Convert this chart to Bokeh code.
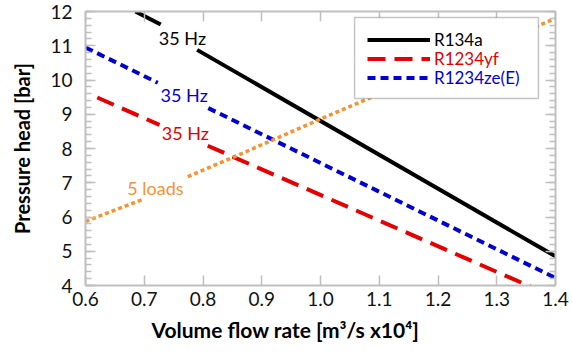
from bokeh.plotting import figure
from bokeh.models import (Range1d, LinearAxis, FixedTicker, NumeralTickFormatter, Label,
                          Legend, LegendItem, BoxAnnotation, Title)
from bokeh.embed import file_html
from bokeh.resources import INLINE

nan = float("nan")

# ---- data (NaN = gap where a data label sits) ----
r134a_x = [0.685, 0.728, nan, 0.790, 1.40]
r134a_y = [12.0, 11.62, nan, 10.88, 4.85]

r1234yf_x = [0.620, 0.726, nan, 0.808, 1.40]
r1234yf_y = [9.49, 8.69, nan, 8.08, 3.65]

r1234ze_x = [0.600, 0.723, nan, 0.809, 1.40]
r1234ze_y = [10.95, 9.92, nan, 9.18, 4.22]

loads_x = [0.600, 0.697, nan, 0.774, 0.847, 1.000, 1.40]
loads_y = [5.87, 6.51, nan, 7.18, 7.71, 8.86, 11.80]

x_ticks = [0.6, 0.7, 0.8, 0.9, 1.0, 1.1, 1.2, 1.3, 1.4]
y_ticks = [4, 5, 6, 7, 8, 9, 10, 11, 12]
y_minor = [round(4 + 0.2 * i, 1) for i in range(41)]

series_names = ["R134a", "R1234yf", "R1234ze(E)"]
annot_texts = ["35 Hz", "35 Hz", "35 Hz", "5 loads"]

BLACK = "#000000"
RED = "#e60000"
BLUE = "#0000d0"
ORANGE = "#f7922f"
AXIS_GRAY = "#bfbfbf"
FONT = "Lato"

p = figure(width=572, height=356, output_backend="svg", toolbar_location=None,
           x_range=Range1d(0.6, 1.4), y_range=Range1d(4, 12),
           min_border_left=85, min_border_right=17, min_border_top=11, min_border_bottom=71)
p.outline_line_color = None
p.xgrid.grid_line_color = None
p.ygrid.grid_line_color = None
p.background_fill_color = "white"
p.border_fill_color = "white"

def style_axis(ax, ticker, labels=True):
    ax.ticker = ticker
    ax.axis_line_color = AXIS_GRAY
    ax.axis_line_width = 2
    ax.major_tick_line_color = AXIS_GRAY
    ax.minor_tick_line_color = AXIS_GRAY
    ax.major_tick_line_width = 1.5
    ax.minor_tick_line_width = 1.5
    ax.major_tick_in = 10
    ax.major_tick_out = 0
    ax.minor_tick_in = 6
    ax.minor_tick_out = 0
    if labels:
        ax.major_label_text_font = FONT
        ax.major_label_text_font_size = "19px"
        ax.major_label_text_color = "#111111"
    else:
        ax.major_label_text_font_size = "0px"
        ax.major_label_text_color = None
        ax.major_label_standoff = 0

xt = FixedTicker(ticks=x_ticks, minor_ticks=[])
yt = FixedTicker(ticks=y_ticks, minor_ticks=y_minor)

xa = p.xaxis[0]
style_axis(xa, xt)
xa.formatter = NumeralTickFormatter(format="0.0")
xa.major_label_standoff = 6

ya = p.yaxis[0]
style_axis(ya, yt)
ya.major_label_standoff = 13
ya.axis_label = "Pressure head [bar]"
ya.axis_label_text_font = FONT
ya.axis_label_text_font_size = "20px"
ya.axis_label_text_font_style = "bold"
ya.axis_label_text_color = "#000000"
ya.axis_label_standoff = 13

top_ax = LinearAxis()
style_axis(top_ax, FixedTicker(ticks=x_ticks, minor_ticks=[]), labels=False)
p.add_layout(top_ax, "above")
right_ax = LinearAxis()
style_axis(right_ax, FixedTicker(ticks=y_ticks, minor_ticks=y_minor), labels=False)
p.add_layout(right_ax, "right")

p.add_layout(Title(text="Volume flow rate [m³/s x10⁴]", align="left", offset=66,
                   text_font=FONT, text_font_size="21px", text_font_style="bold",
                   text_color="#000000", standoff=12), "below")

r1 = p.line(r134a_x, r134a_y, line_color=BLACK, line_width=4)
r2 = p.line(r1234yf_x, r1234yf_y, line_color=RED, line_width=4, line_dash="18 9")
r3 = p.line(r1234ze_x, r1234ze_y, line_color=BLUE, line_width=4, line_dash="8 5")
r4 = p.line(loads_x, loads_y, line_color=ORANGE, line_width=3.5, line_dash="4 3")

# data labels
for txt, x, y, c in zip(annot_texts, [0.765, 0.768, 0.770, 0.719],
                        [11.24, 9.55, 8.44, 6.85], [BLACK, BLUE, RED, ORANGE]):
    p.add_layout(Label(x=x, y=y, text=txt, text_align="center", text_baseline="middle",
                       text_font=FONT, text_font_size="18px", text_color=c))

# legend frame
p.add_layout(BoxAnnotation(left=1.058, right=1.371, top=11.825, bottom=9.46,
                           fill_color="white", fill_alpha=1.0,
                           line_color="#404040", line_width=1.5))

for name, r, c, yloc in zip(series_names, [r1, r2, r3], [BLACK, RED, BLUE], [235, 216, 197]):
    leg = Legend(items=[LegendItem(label=name, renderers=[r])], location=(282, yloc),
                 padding=0, margin=0, spacing=0, glyph_width=63, glyph_height=19,
                 label_height=19, label_standoff=4, border_line_alpha=0,
                 background_fill_alpha=0, label_text_font=FONT,
                 label_text_font_size="17px", label_text_color=c)
    p.add_layout(leg, "center")

open("out.html", "w").write(file_html(p, INLINE))
